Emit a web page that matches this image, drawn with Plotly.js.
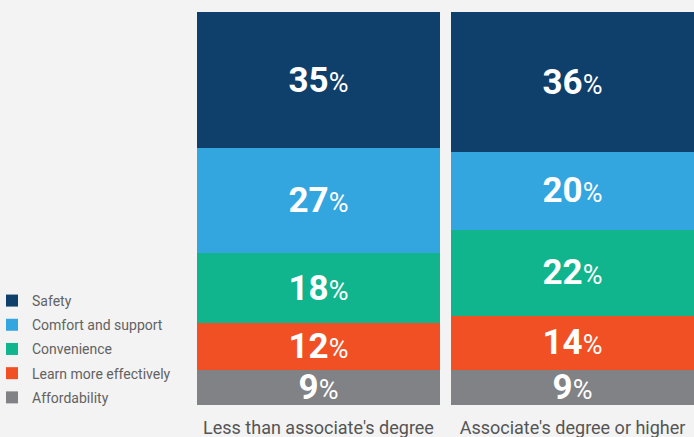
<!DOCTYPE html>
<html>
<head>
<meta charset="utf-8">
<script src="https://cdn.plot.ly/plotly-3.0.1.min.js"></script>
<style>
html,body{margin:0;padding:0;background:#f3f3f3;}
#chart{width:694px;height:437px;}
</style>
</head>
<body>
<div id="chart"></div>
<script>
var categories = ["Less than associate's degree", "Associate's degree or higher"];
var seriesNames = ["Affordability", "Learn more effectively", "Convenience", "Comfort and support", "Safety"];
var affordability = [9, 9];
var learnMore = [12, 14];
var convenience = [18, 22];
var comfort = [27, 20];
var safety = [35, 36];
var colors = ["#818286", "#f15024", "#10b58e", "#33a6e0", "#0f3f6b"];

var values = [affordability, learnMore, convenience, comfort, safety];

var traces = values.map(function (vals, i) {
  return {
    type: 'bar',
    name: seriesNames[i],
    x: categories,
    y: vals,
    marker: {color: colors[i], line: {width: 0}},
    text: vals.map(function (v) {
      return '<b>' + v + '</b><span style="font-size:27px;font-weight:normal">%</span>';
    }),
    textposition: 'inside',
    insidetextanchor: 'middle',
    textangle: 0,
    constraintext: 'none',
    textfont: {family: 'Roboto, sans-serif', size: 35, color: '#ffffff'},
    hoverinfo: 'none',
    legendgroup: 'g' + i,
    legendrank: 1000 + (values.length - i)
  };
});

var layout = {
  width: 694,
  height: 437,
  paper_bgcolor: '#f3f3f3',
  plot_bgcolor: '#f3f3f3',
  margin: {l: 197, r: 0, t: 12, b: 32},
  barmode: 'stack',
  bargap: 0.0433,
  showlegend: true,
  legend: {
    traceorder: 'grouped',
    xref: 'container',
    yref: 'container',
    x: 0,
    xanchor: 'left',
    y: 0.055,
    yanchor: 'bottom',
    indentation: -8,
    font: {family: 'Roboto, sans-serif', size: 14, color: '#626262'},
    tracegroupgap: 3,
    bgcolor: 'rgba(0,0,0,0)'
  },
  xaxis: {
    type: 'category',
    range: [-0.4783, 1.4783],
    showgrid: false,
    zeroline: false,
    showline: false,
    ticks: '',
    ticklabelstandoff: 10,
    tickfont: {family: 'Roboto, sans-serif', size: 18, color: '#555555'},
    fixedrange: true
  },
  yaxis: {
    range: [0, 101],
    visible: false,
    showgrid: false,
    zeroline: false,
    fixedrange: true
  },
  font: {family: 'Roboto, sans-serif'}
};

Plotly.newPlot('chart', traces, layout, {displayModeBar: false, staticPlot: true});
</script>
</body>
</html>
